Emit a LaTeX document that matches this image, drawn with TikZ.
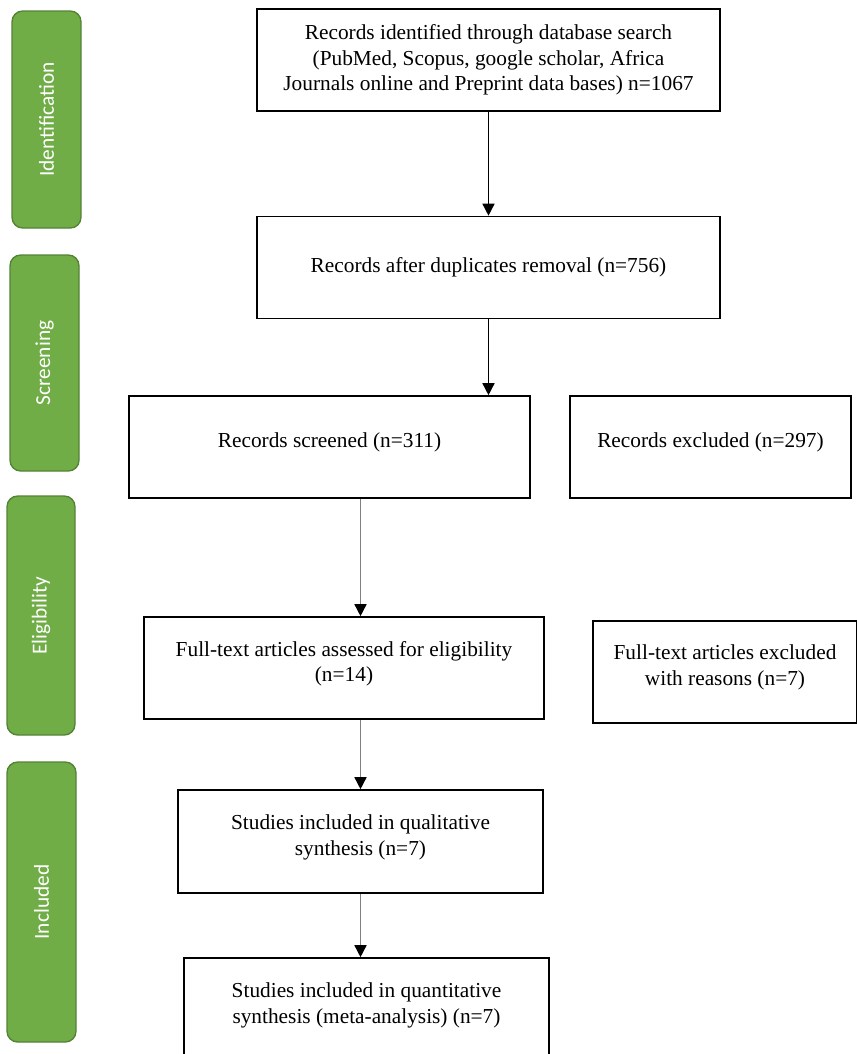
\documentclass[tikz,border=0pt]{standalone}
\usepackage{fontspec}
\setmainfont{Liberation Serif}
\newfontfamily\stagefont{Carlito}
\usetikzlibrary{arrows.meta}
\definecolor{stagegreen}{HTML}{70AD47}
\definecolor{stageedge}{HTML}{548235}

\begin{document}
\begin{tikzpicture}[x=0.75pt, y=-0.75pt,
    record/.style={draw, line width=1.2pt, align=center, inner sep=0pt,
      font=\fontsize{16}{19.2}\selectfont},
    raised/.style={execute at end node={\rule[-10pt]{0pt}{0pt}}},
    stage/.style={draw=stageedge, line width=1pt, fill=stagegreen, rounded corners=8pt,
      text=white, rotate=90, inner sep=0pt, font=\stagefont\fontsize{16}{19}\selectfont},
    flow/.style={line width=1.1pt, -{Triangle[width=9pt,length=9pt,color=black]}},
    greyflow/.style={flow, draw=black!50}]
    \useasboundingbox (0,0) rectangle (857,1054);

    % Phase labels
    \node[stage, minimum width=162.75pt, minimum height=51.75pt] (identstage) at (46.5,119.5) {Identification};
    \node[stage, minimum width=162pt, minimum height=51.75pt] (screenstage) at (44.5,363) {Screening};
    \node[stage, minimum width=179.25pt, minimum height=51pt] (eligstage) at (41,615.5) {Eligibility};
    \node[stage, minimum width=210pt, minimum height=51.75pt] (inclstage) at (41.5,902) {Included};

    % Boxes
    \node[record, minimum width=347.25pt, minimum height=76.5pt] (ident) at (488.5,60)
      {Records identified through database search\\(PubMed, Scopus, google scholar, Africa\\Journals online and Preprint data bases) n=1067};
    \node[record, minimum width=347.25pt, minimum height=76.5pt] (dup) at (488.5,267.5)
      {Records after duplicates removal (n=756)};
    \node[record, raised, minimum width=300.75pt, minimum height=76.5pt] (screen) at (329.5,447)
      {Records screened (n=311)};
    \node[record, raised, minimum width=210.75pt, minimum height=76.5pt] (excl) at (710.5,447)
      {Records excluded (n=297)};
    \node[record, raised, minimum width=300pt, minimum height=76.5pt] (full) at (344,668)
      {Full-text articles assessed for eligibility\\(n=14)};
    \node[record, raised, minimum width=198pt, minimum height=76.5pt] (fullex) at (725,672)
      {Full-text articles excluded\\with reasons (n=7)};
    \node[record, raised, minimum width=273.75pt, minimum height=77.25pt] (qual) at (360.5,841.5)
      {Studies included in qualitative\\synthesis (n=7)};
    \node[record, raised, minimum width=273.75pt, minimum height=77.25pt] (quant) at (366.5,1009.5)
      {Studies included in quantitative\\synthesis (meta-analysis) (n=7)};

    % Arrows
    \draw[flow] (ident.south) -- (dup.north);
    \draw[flow] (dup.south) -- (dup.south |- screen.north);
    \draw[greyflow] (screen.south -| qual.north) -- (full.north -| qual.north);
    \draw[greyflow] (full.south -| qual.north) -- (qual.north);
    \draw[greyflow] (qual.south) -- (qual.south |- quant.north);
\end{tikzpicture}
\end{document}
